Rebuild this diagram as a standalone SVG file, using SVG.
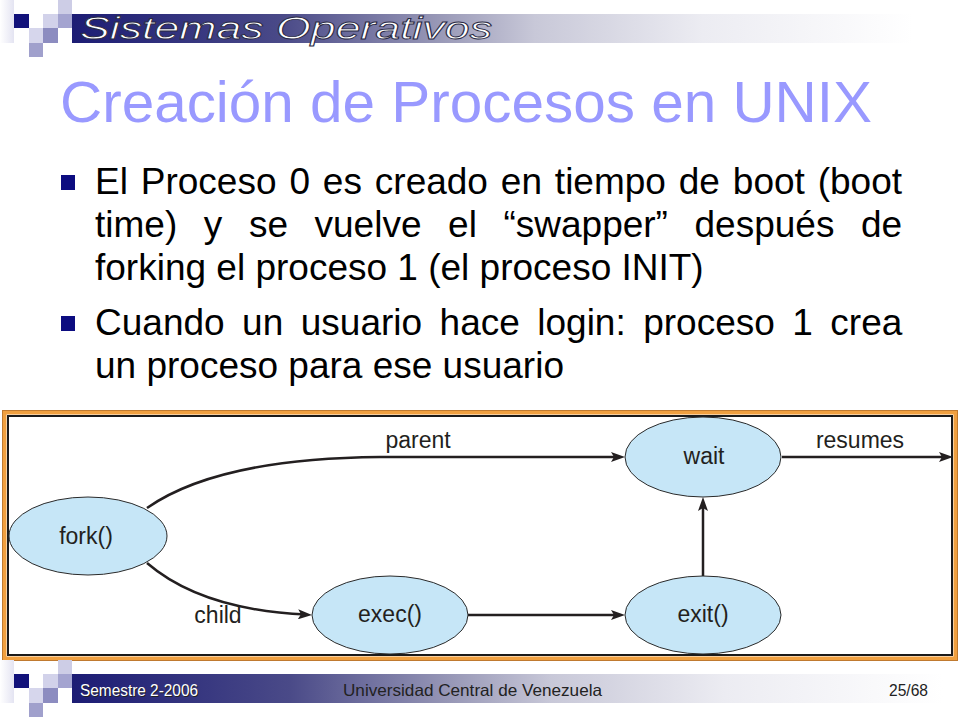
<svg xmlns="http://www.w3.org/2000/svg" width="960" height="720" viewBox="0 0 960 720">
<defs>
  <linearGradient id="band" x1="0" y1="0" x2="1" y2="0">
    <stop offset="0" stop-color="#1c1c74"/>
    <stop offset="0.25" stop-color="#4a4a88"/>
    <stop offset="0.44" stop-color="#9a9ab8"/>
    <stop offset="0.55" stop-color="#c8c8d8"/>
    <stop offset="0.75" stop-color="#ececf2"/>
    <stop offset="1" stop-color="#ffffff"/>
  </linearGradient>
  <linearGradient id="edge" x1="0" y1="0" x2="1" y2="0">
    <stop offset="0" stop-color="#ffffff"/>
    <stop offset="1" stop-color="#e4e4f2"/>
  </linearGradient>
  <marker id="arr" markerUnits="userSpaceOnUse" markerWidth="14" markerHeight="10" viewBox="0 0 14 10" refX="8" refY="5" orient="auto">
    <path d="M0,0 L14,5 L0,10 L3,5 Z" fill="#231f20"/>
  </marker>
  <g id="squares">
    <rect x="0" y="0" width="14" height="43" fill="url(#edge)"/>
    <rect x="58" y="0" width="14" height="14" fill="#cdcde6"/>
    <rect x="14" y="14" width="15" height="14" fill="#12127a"/>
    <rect x="43" y="14" width="15" height="14" fill="#d2d2ea"/>
    <rect x="58" y="14" width="14" height="14" fill="#a4a4d0"/>
    <rect x="29" y="28" width="14" height="15" fill="#d6d6ec"/>
    <rect x="43" y="28" width="15" height="15" fill="#8c8cc0"/>
    <rect x="29" y="43" width="14" height="14" fill="#a0a0cc"/>
  </g>
</defs>
<style>
  .body { font-family: "Liberation Sans", Arial, sans-serif; font-size: 37px; fill: #000; }
  .lbl { font-family: "Liberation Sans", Arial, sans-serif; font-size: 23px; fill: #231f20; }
  .node { fill: #c6e6f7; stroke: #2a2a2a; stroke-width: 1; }
  .conn { fill: none; stroke: #231f20; stroke-width: 2.5; marker-end: url(#arr); }
  .bullet { fill: #0c0c80; }
</style>
<rect width="960" height="720" fill="#ffffff"/>

<!-- header -->
<g id="header">
  <use href="#squares"/>
  <rect x="72" y="14" width="841" height="29" fill="url(#band)"/>
  <text x="80" y="39" font-family="Liberation Sans, Arial, sans-serif" font-style="italic" font-size="32" fill="#ffffff" stroke="#2a2a44" stroke-width="0.9" textLength="412" lengthAdjust="spacingAndGlyphs">Sistemas Operativos</text>
</g>

<!-- title -->
<text id="title" x="60" y="122" font-family="Liberation Sans, Arial, sans-serif" font-size="58" fill="#9999ff" textLength="812" lengthAdjust="spacingAndGlyphs">Creación de Procesos en UNIX</text>

<!-- bullets -->
<g id="bullets">
  <rect class="bullet" x="61" y="175" width="14" height="15"/>
  <text class="body" x="95" y="194" word-spacing="2.6">El Proceso 0 es creado en tiempo de boot (boot</text>
  <text class="body" x="95" y="237" word-spacing="16.3">time) y se vuelve el “swapper” después de</text>
  <text class="body" x="95" y="280">forking el proceso 1 (el proceso INIT)</text>
  <rect class="bullet" x="61" y="316" width="14" height="15"/>
  <text class="body" x="95" y="335" word-spacing="7.2">Cuando un usuario hace login: proceso 1 crea</text>
  <text class="body" x="95" y="378">un proceso para ese usuario</text>
</g>

<!-- frame -->
<g id="frame">
  <rect x="4.5" y="412.5" width="951" height="246" fill="#ffffff" stroke="#f0a040" stroke-width="4"/>
  <rect x="2.5" y="410.5" width="955" height="250" fill="none" stroke="#c07a30" stroke-width="1"/>
  <rect x="8" y="416" width="944" height="239" fill="#ffffff" stroke="#1a1a1a" stroke-width="2"/>
</g>

<!-- connectors -->
<g id="connectors">
  <path class="conn" d="M147,508 C190,478 260,458 380,457 L619,457"/>
  <path class="conn" d="M147,563 C190,600 250,612 306,614.6"/>
  <path class="conn" d="M468,615 L619,615"/>
  <path class="conn" d="M703,576 L703,503"/>
  <path class="conn" d="M782,457 L947,457"/>
  <text class="lbl" x="418" y="448" text-anchor="middle">parent</text>
  <text class="lbl" x="218" y="623" text-anchor="middle">child</text>
  <text class="lbl" x="860" y="448" text-anchor="middle">resumes</text>
</g>

<!-- nodes -->
<g id="node-fork">
  <ellipse class="node" cx="88" cy="536" rx="79" ry="39"/>
  <text class="lbl" x="86" y="544" text-anchor="middle">fork()</text>
</g>
<g id="node-exec">
  <ellipse class="node" cx="390" cy="615" rx="78" ry="39"/>
  <text class="lbl" x="390" y="622" text-anchor="middle">exec()</text>
</g>
<g id="node-wait">
  <ellipse class="node" cx="703" cy="457" rx="78" ry="40"/>
  <text class="lbl" x="704" y="464" text-anchor="middle">wait</text>
</g>
<g id="node-exit">
  <ellipse class="node" cx="703" cy="615" rx="78" ry="39"/>
  <text class="lbl" x="703" y="622" text-anchor="middle">exit()</text>
</g>

<!-- footer -->
<g id="footer">
  <use href="#squares" y="660"/>
  <rect x="72" y="674" width="871" height="29" fill="url(#band)"/>
  <text x="81" y="697" font-family="Liberation Sans, Arial, sans-serif" font-size="16" fill="#222" textLength="118" lengthAdjust="spacingAndGlyphs">Semestre 2-2006</text>
  <text x="80" y="696" font-family="Liberation Sans, Arial, sans-serif" font-size="16" fill="#ffffff" textLength="118" lengthAdjust="spacingAndGlyphs">Semestre 2-2006</text>
  <text x="343" y="696" font-family="Liberation Sans, Arial, sans-serif" font-size="16.5" fill="#222" textLength="259" lengthAdjust="spacingAndGlyphs">Universidad Central de Venezuela</text>
  <text x="889" y="696" font-family="Liberation Sans, Arial, sans-serif" font-size="16.5" fill="#222" textLength="39" lengthAdjust="spacingAndGlyphs">25/68</text>
</g>
</svg>
